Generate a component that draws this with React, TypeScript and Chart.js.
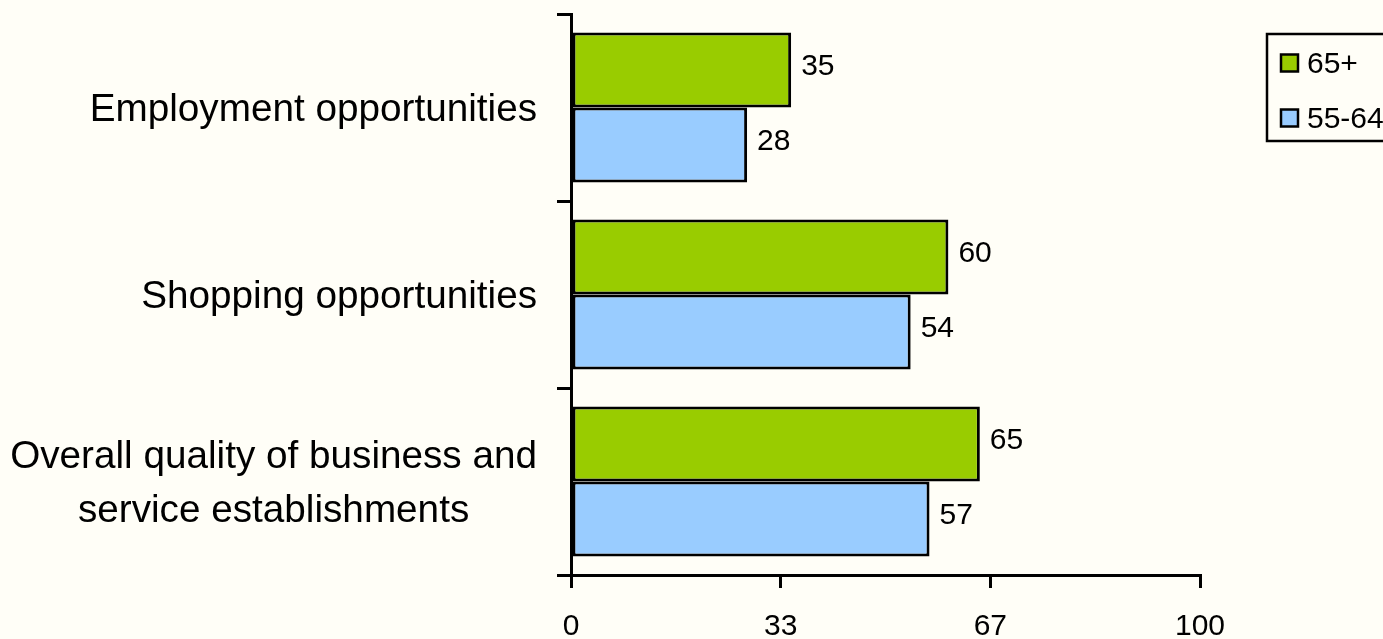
import React, { useEffect, useRef } from "react";
import { Chart, registerables } from "chart.js";

Chart.register(...registerables);

const categories: (string | string[])[] = [
  "Employment opportunities",
  "Shopping opportunities",
  ["Overall quality of business and", "service establishments"],
];
const series65plus = [35, 60, 65];
const series55to64 = [28, 54, 57];
const seriesLabels = ["65+", "55-64"];
const xTickValues = [0, 100 / 3, 200 / 3, 100];

const GREEN = "#99CC00";
const BLUE = "#99CCFF";
const BG = "#FFFEF7";
const FONT = '"Liberation Sans", Arial, sans-serif';

const bgPlugin = {
  id: "bgFill",
  beforeDraw(chart: any) {
    const { ctx, width, height } = chart;
    ctx.save();
    ctx.fillStyle = BG;
    ctx.fillRect(0, 0, width, height);
    ctx.restore();
  },
};

const labelsPlugin = {
  id: "customLabels",
  afterDraw(chart: any) {
    const { ctx } = chart;
    const yScale = chart.scales.y;
    ctx.save();
    ctx.fillStyle = "#000";
    // category labels
    ctx.font = `38.7px ${FONT}`;
    ctx.textBaseline = "middle";
    const rightEdge = 537;
    categories.forEach((cat, i) => {
      const yc = yScale.getPixelForValue(i) + 3;
      if (Array.isArray(cat)) {
        const widths = cat.map((l) => ctx.measureText(l).width);
        const maxW = Math.max(...widths);
        const cx = rightEdge - maxW / 2;
        const lh = 54;
        const start = yc - ((cat.length - 1) * lh) / 2;
        ctx.textAlign = "center";
        cat.forEach((line, j) => ctx.fillText(line, cx, start + j * lh));
      } else {
        ctx.textAlign = "right";
        ctx.fillText(cat, rightEdge, yc);
      }
    });
    // value labels
    ctx.font = `30px ${FONT}`;
    ctx.textAlign = "left";
    chart.data.datasets.forEach((ds: any, di: number) => {
      const meta = chart.getDatasetMeta(di);
      meta.data.forEach((el: any, i: number) => {
        ctx.fillText(String(ds.data[i]), el.x + 10, el.y - 3);
      });
    });
    // legend
    ctx.lineWidth = 2.5;
    ctx.strokeStyle = "#000";
    ctx.strokeRect(1267, 34, 200, 107);
    ctx.font = `30px ${FONT}`;
    chart.data.datasets.forEach((ds: any, di: number) => {
      const cy = 63 + di * 55;
      ctx.fillStyle = ds.backgroundColor;
      ctx.fillRect(1281, cy - 8.5, 17, 17);
      ctx.strokeRect(1281, cy - 8.5, 17, 17);
      ctx.fillStyle = "#000";
      ctx.textBaseline = "middle";
      ctx.fillText(ds.label, 1307, cy + 2);
    });
    ctx.restore();
  },
};

export default function App() {
  const canvasRef = useRef<HTMLCanvasElement | null>(null);

  useEffect(() => {
    if (!canvasRef.current) return;
    const chart = new Chart(canvasRef.current, {
      type: "bar",
      data: {
        labels: categories.map((c) => (Array.isArray(c) ? c.join(" ") : c)),
        datasets: [
          {
            label: seriesLabels[0],
            data: series65plus,
            backgroundColor: GREEN,
            borderColor: "#000",
            borderWidth: 3,
            borderSkipped: false,
            categoryPercentage: 0.802,
            barPercentage: 1.0,
          },
          {
            label: seriesLabels[1],
            data: series55to64,
            backgroundColor: BLUE,
            borderColor: "#000",
            borderWidth: 3,
            borderSkipped: false,
            categoryPercentage: 0.802,
            barPercentage: 1.0,
          },
        ],
      },
      options: {
        indexAxis: "y",
        animation: false,
        responsive: false,
        maintainAspectRatio: false,
        layout: { padding: { left: 0, top: 14, right: 183, bottom: 0 } },
        plugins: {
          legend: { display: false },
          tooltip: { enabled: false },
        },
        scales: {
          x: {
            type: "linear",
            min: 0,
            max: 100,
            afterBuildTicks: (s: any) => {
              s.ticks = xTickValues.map((v) => ({ value: v }));
            },
            afterFit: (s: any) => {
              s.height = 64;
            },
            ticks: {
              callback: (v: any) => String(Math.round(Number(v))),
              color: "#000",
              font: { family: FONT, size: 30 },
              padding: 21,
              maxRotation: 0,
              autoSkip: false,
            },
            grid: {
              display: true,
              drawOnChartArea: false,
              drawTicks: true,
              tickLength: 13,
              color: "#000",
              tickColor: "#000",
              lineWidth: 3,
            },
            border: { display: true, color: "#000", width: 3 },
          },
          y: {
            type: "category",
            offset: true,
            afterFit: (s: any) => {
              s.width = 571;
            },
            ticks: { display: false },
            grid: {
              display: true,
              offset: true,
              drawOnChartArea: false,
              drawTicks: true,
              tickLength: 14,
              color: "#000",
              tickColor: "#000",
              lineWidth: 3,
            },
            border: { display: true, color: "#000", width: 3 },
          },
        },
      },
      plugins: [bgPlugin, labelsPlugin],
    });
    return () => chart.destroy();
  }, []);

  return (
    <div
      style={{
        position: "fixed",
        left: 0,
        top: 0,
        width: 1383,
        height: 639,
        background: BG,
        overflow: "hidden",
      }}
    >
      <canvas ref={canvasRef} width={1383} height={639} style={{ width: 1383, height: 639, display: "block" }} />
    </div>
  );
}
